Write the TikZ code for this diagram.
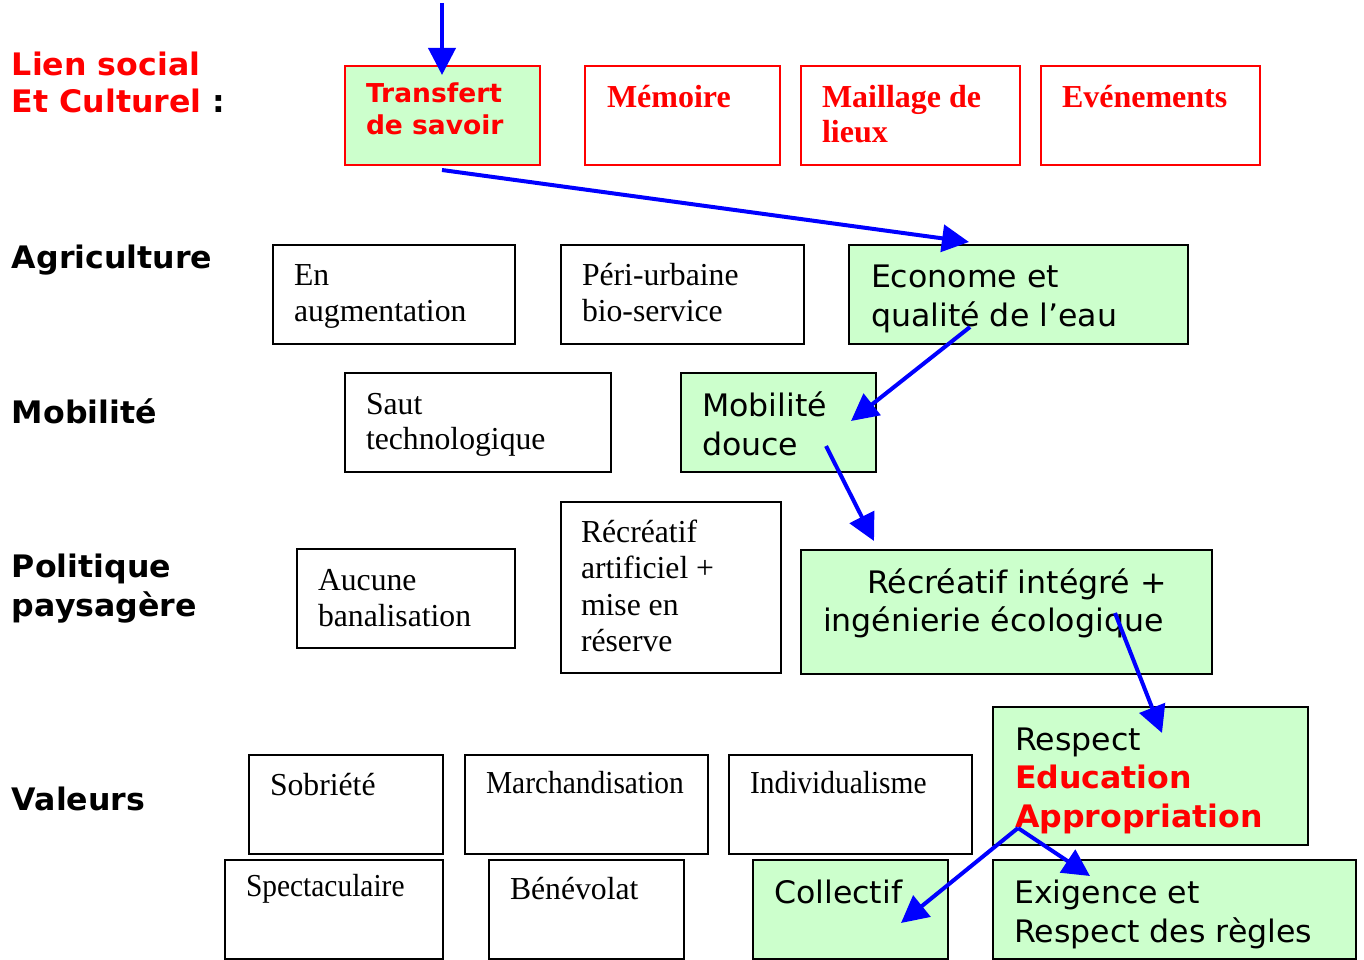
\documentclass[tikz,border=0pt]{standalone}
\usepackage{fontspec}
\setmainfont{Liberation Serif}
\newfontfamily\sansf[FakeStretch=1.02]{DejaVu Sans}
\newfontfamily\serifn[FakeStretch=0.99]{Liberation Serif}
\newfontfamily\serifc[FakeStretch=0.92]{Liberation Serif}
\usetikzlibrary{arrows.meta,fit}
\definecolor{lgreen}{HTML}{CCFFCC}
\definecolor{pred}{HTML}{FF0000}
\definecolor{pblue}{HTML}{0000FF}
\newcommand\ml[1]{\begin{tabular}[t]{@{}l@{}}#1\end{tabular}}
\begin{document}
\begin{tikzpicture}[x=1pt,y=-1pt,
 box/.style={draw=black,line width=1.4pt,inner sep=0pt,fill=white},
 gbox/.style={box,fill=lgreen},
 rbox/.style={box,draw=pred},
 txt/.style={anchor=base west,inner sep=0pt,outer sep=0pt},
 serif/.style={txt,font=\serifn\fontsize{32}{36.5}\selectfont},
 serifv/.style={txt,font=\serifc\fontsize{32}{36.5}\selectfont},
 serifb/.style={txt,text=pred,font=\rmfamily\bfseries\fontsize{32}{35}\selectfont},
 sans/.style={txt,font=\sansf\fontsize{31}{39}\selectfont},
 sansb/.style={txt,font=\sansf\bfseries\fontsize{31}{39}\selectfont},
 arr/.style={draw=pblue,line width=4pt,-{Triangle[length=27pt,width=27pt]}}
]
\useasboundingbox (0,0) rectangle (1364,960);

% row labels
\node[sansb,text=pred,font=\sansf\bfseries\fontsize{31}{37}\selectfont] (lien) at (12,76) {\ml{Lien social\\Et Culturel \textcolor{black}{:}}};
\node[sansb] (agri) at (12,268) {Agriculture};
\node[sansb] (mobi) at (12,423) {Mobilité};
\node[sansb] (poli) at (12,577) {\ml{Politique\\paysagère}};
\node[sansb] (vale) at (12,810) {Valeurs};

% row 1
\node[gbox,draw=pred,fit={(345,66) (540,165)}] (transfert) {};
\node[txt,text=pred,font=\sansf\bfseries\fontsize{26}{32}\selectfont] (ttransfert) at (366,103) {\ml{Transfert\\de savoir}};
\node[rbox,fit={(585,66) (780,165)}] (memoire) {};
\node[serifb] (tmemoire) at (607,108) {Mémoire};
\node[rbox,fit={(801,66) (1020,165)}] (maillage) {};
\node[serifb] (tmaillage) at (822,108) {\ml{Maillage de\\lieux}};
\node[rbox,fit={(1041,66) (1260,165)}] (evenements) {};
\node[serifb] (tevenements) at (1062,108) {Evénements};

% row 2
\node[box,fit={(273,245) (515,344)}] (augm) {};
\node[serif] (taugm) at (294,285) {\ml{En\\augmentation}};
\node[box,fit={(561,245) (804,344)}] (peri) {};
\node[serif] (tperi) at (582,285) {\ml{Péri-urbaine\\bio-service}};
\node[gbox,fit={(849,245) (1188,344)}] (eau) {};
\node[sans] (teau) at (871,287) {\ml{Econome et\\qualité de l’eau}};

% row 3
\node[box,fit={(345,373) (611,472)}] (saut) {};
\node[serif,font=\serifn\fontsize{32}{35}\selectfont] (tsaut) at (366,414) {\ml{Saut\\technologique}};
\node[gbox,fit={(681,373) (876,472)}] (douce) {};
\node[sans] (tdouce) at (702,416) {\ml{Mobilité\\douce}};

% row 4
\node[box,fit={(297,549) (515,648)}] (aucune) {};
\node[serif] (taucune) at (318,590) {\ml{Aucune\\banalisation}};
\node[box,fit={(561,502) (781,673)}] (artif) {};
\node[serif] (tartif) at (581,542) {\ml{Récréatif\\artificiel +\\mise en\\réserve}};
\node[gbox,fit={(801,550) (1212,674)}] (integre) {};
\node[sans,font=\sansf\fontsize{31}{38.5}\selectfont] (tintegre) at (823,593) {\ml{\hspace*{44pt}Récréatif intégré +\\ingénierie écologique}};

% row 5
\node[box,fit={(249,755) (443,854)}] (sobriete) {};
\node[serif] (tsobriete) at (270,795) {Sobriété};
\node[box,fit={(465,755) (708,854)}] (marchand) {};
\node[serifv] (tmarchand) at (486,793) {Marchandisation};
\node[box,fit={(729,755) (972,854)}] (indiv) {};
\node[serifv] (tindiv) at (750,793) {Individualisme};
\node[gbox,fit={(993,707) (1308,845)}] (respect) {};
\node[sans,font=\sansf\fontsize{31}{38.5}\selectfont] (trespect) at (1015,750) {\ml{Respect\\\textcolor{pred}{\bfseries Education}\\\textcolor{pred}{\bfseries Appropriation}}};
\node[box,fit={(225,860) (443,959)}] (spect) {};
\node[serifv] (tspect) at (246,896) {Spectaculaire};
\node[box,fit={(489,860) (684,959)}] (benevolat) {};
\node[serif] (tbenevolat) at (510,899) {Bénévolat};
\node[gbox,fit={(753,860) (948,959)}] (collectif) {};
\node[sans] (tcollectif) at (774,903) {Collectif};
\node[gbox,fit={(993,860) (1356,959)}] (exigence) {};
\node[sans] (texigence) at (1014,903) {\ml{Exigence et\\Respect des règles}};

% connector end points
\coordinate (a1s) at (442,3);
\coordinate (a1e) at (442,75);
\coordinate (a2s) at (442,170);
\coordinate (a2e) at (969,242);
\coordinate (a3s) at (970,327);
\coordinate (a3e) at (851,421);
\coordinate (a4s) at (826,446);
\coordinate (a4e) at (874,541);
\coordinate (a5s) at (1115,613);
\coordinate (a5e) at (1162,733);
\coordinate (a6s) at (1018,828);
\coordinate (a6e) at (901,923);
\coordinate (a7e) at (1090,876);

\draw[arr] (a1s) -- (a1e);
\draw[arr] (a2s) -- (a2e);
\draw[arr] (a3s) -- (a3e);
\draw[arr] (a4s) -- (a4e);
\draw[arr] (a5s) -- (a5e);
\draw[arr] (a6s) -- (a6e);
\draw[arr] (a6s) -- (a7e);
\end{tikzpicture}
\end{document}
